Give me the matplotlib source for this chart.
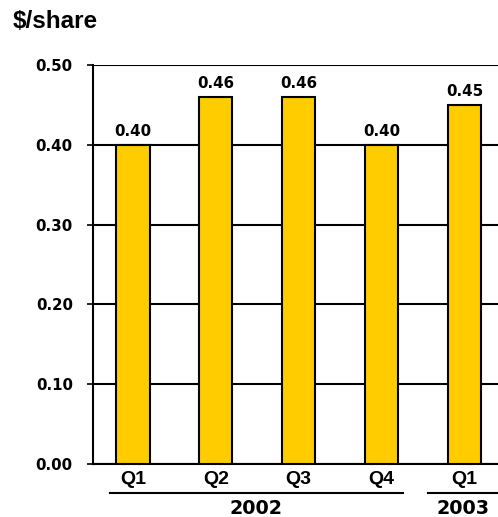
import matplotlib.pyplot as plt
from matplotlib.transforms import blended_transform_factory

# data
quarters = ["Q1", "Q2", "Q3", "Q4", "Q1"]
eps = [0.40, 0.46, 0.46, 0.40, 0.45]
years = ["2002", "2003"]
yticks = [0.0, 0.1, 0.2, 0.3, 0.4, 0.5]

plt.rcParams['font.family'] = ['Liberation Sans', 'DejaVu Sans']
plt.rcParams['font.weight'] = 'bold'
NUM_FONT = ['DejaVu Sans']  # numbers in the reference are set wide

fig = plt.figure(figsize=(4.98, 5.17), dpi=100)
ax = fig.add_axes([93 / 498, 1 - 464 / 517, 1 - 93 / 498, 399 / 517])

x = list(range(len(eps)))
ax.bar(x, eps, width=0.4, color="#FFCC00", edgecolor="black", linewidth=1.5, zorder=3)

for xi, v in zip(x, eps):
    ax.text(xi, v + 0.0115, f"{v:.2f}", ha="center", va="baseline",
            family=NUM_FONT, fontsize=10.8, fontweight="bold", zorder=4)

ax.set_xlim(-0.482, 4.404)
ax.set_ylim(0, 0.5)
ax.set_yticks(yticks)
ax.set_yticklabels([f"{t:.2f}" for t in yticks], family=NUM_FONT,
                   fontsize=10.8, fontweight="bold")
ax.yaxis.grid(True, color="black", linewidth=1.5, zorder=0)
ax.set_axisbelow(True)
ax.tick_params(axis="y", length=4.5, width=1.2, pad=10)
ax.set_xticks([])

for side in ["top", "right"]:
    ax.spines[side].set_visible(False)
for side in ["left", "bottom"]:
    ax.spines[side].set_linewidth(1.5)

trans = blended_transform_factory(ax.transData, ax.transAxes)
for xi, q in zip(x, quarters):
    ax.text(xi, -0.040, q, transform=trans, ha="center", va="center",
            fontsize=14, fontweight="bold")

# year brackets under the quarter labels
ext = [(-0.277, 3.257), (3.558, 4.404)]
for (lo, hi), yr in zip(ext, years):
    ax.plot([lo, hi], [-0.0727, -0.0727], color="black", linewidth=1.5,
            transform=trans, clip_on=False)
    ax.text((lo + hi) / 2, -0.112, yr, transform=trans, ha="center", va="center",
            family=NUM_FONT, fontsize=13.8, fontweight="bold")

fig.text(13 / 498, 1 - 22 / 517, "$/share", ha="left", va="center",
         fontsize=17.5, fontweight="bold")

fig.savefig("out.png", dpi=100)
